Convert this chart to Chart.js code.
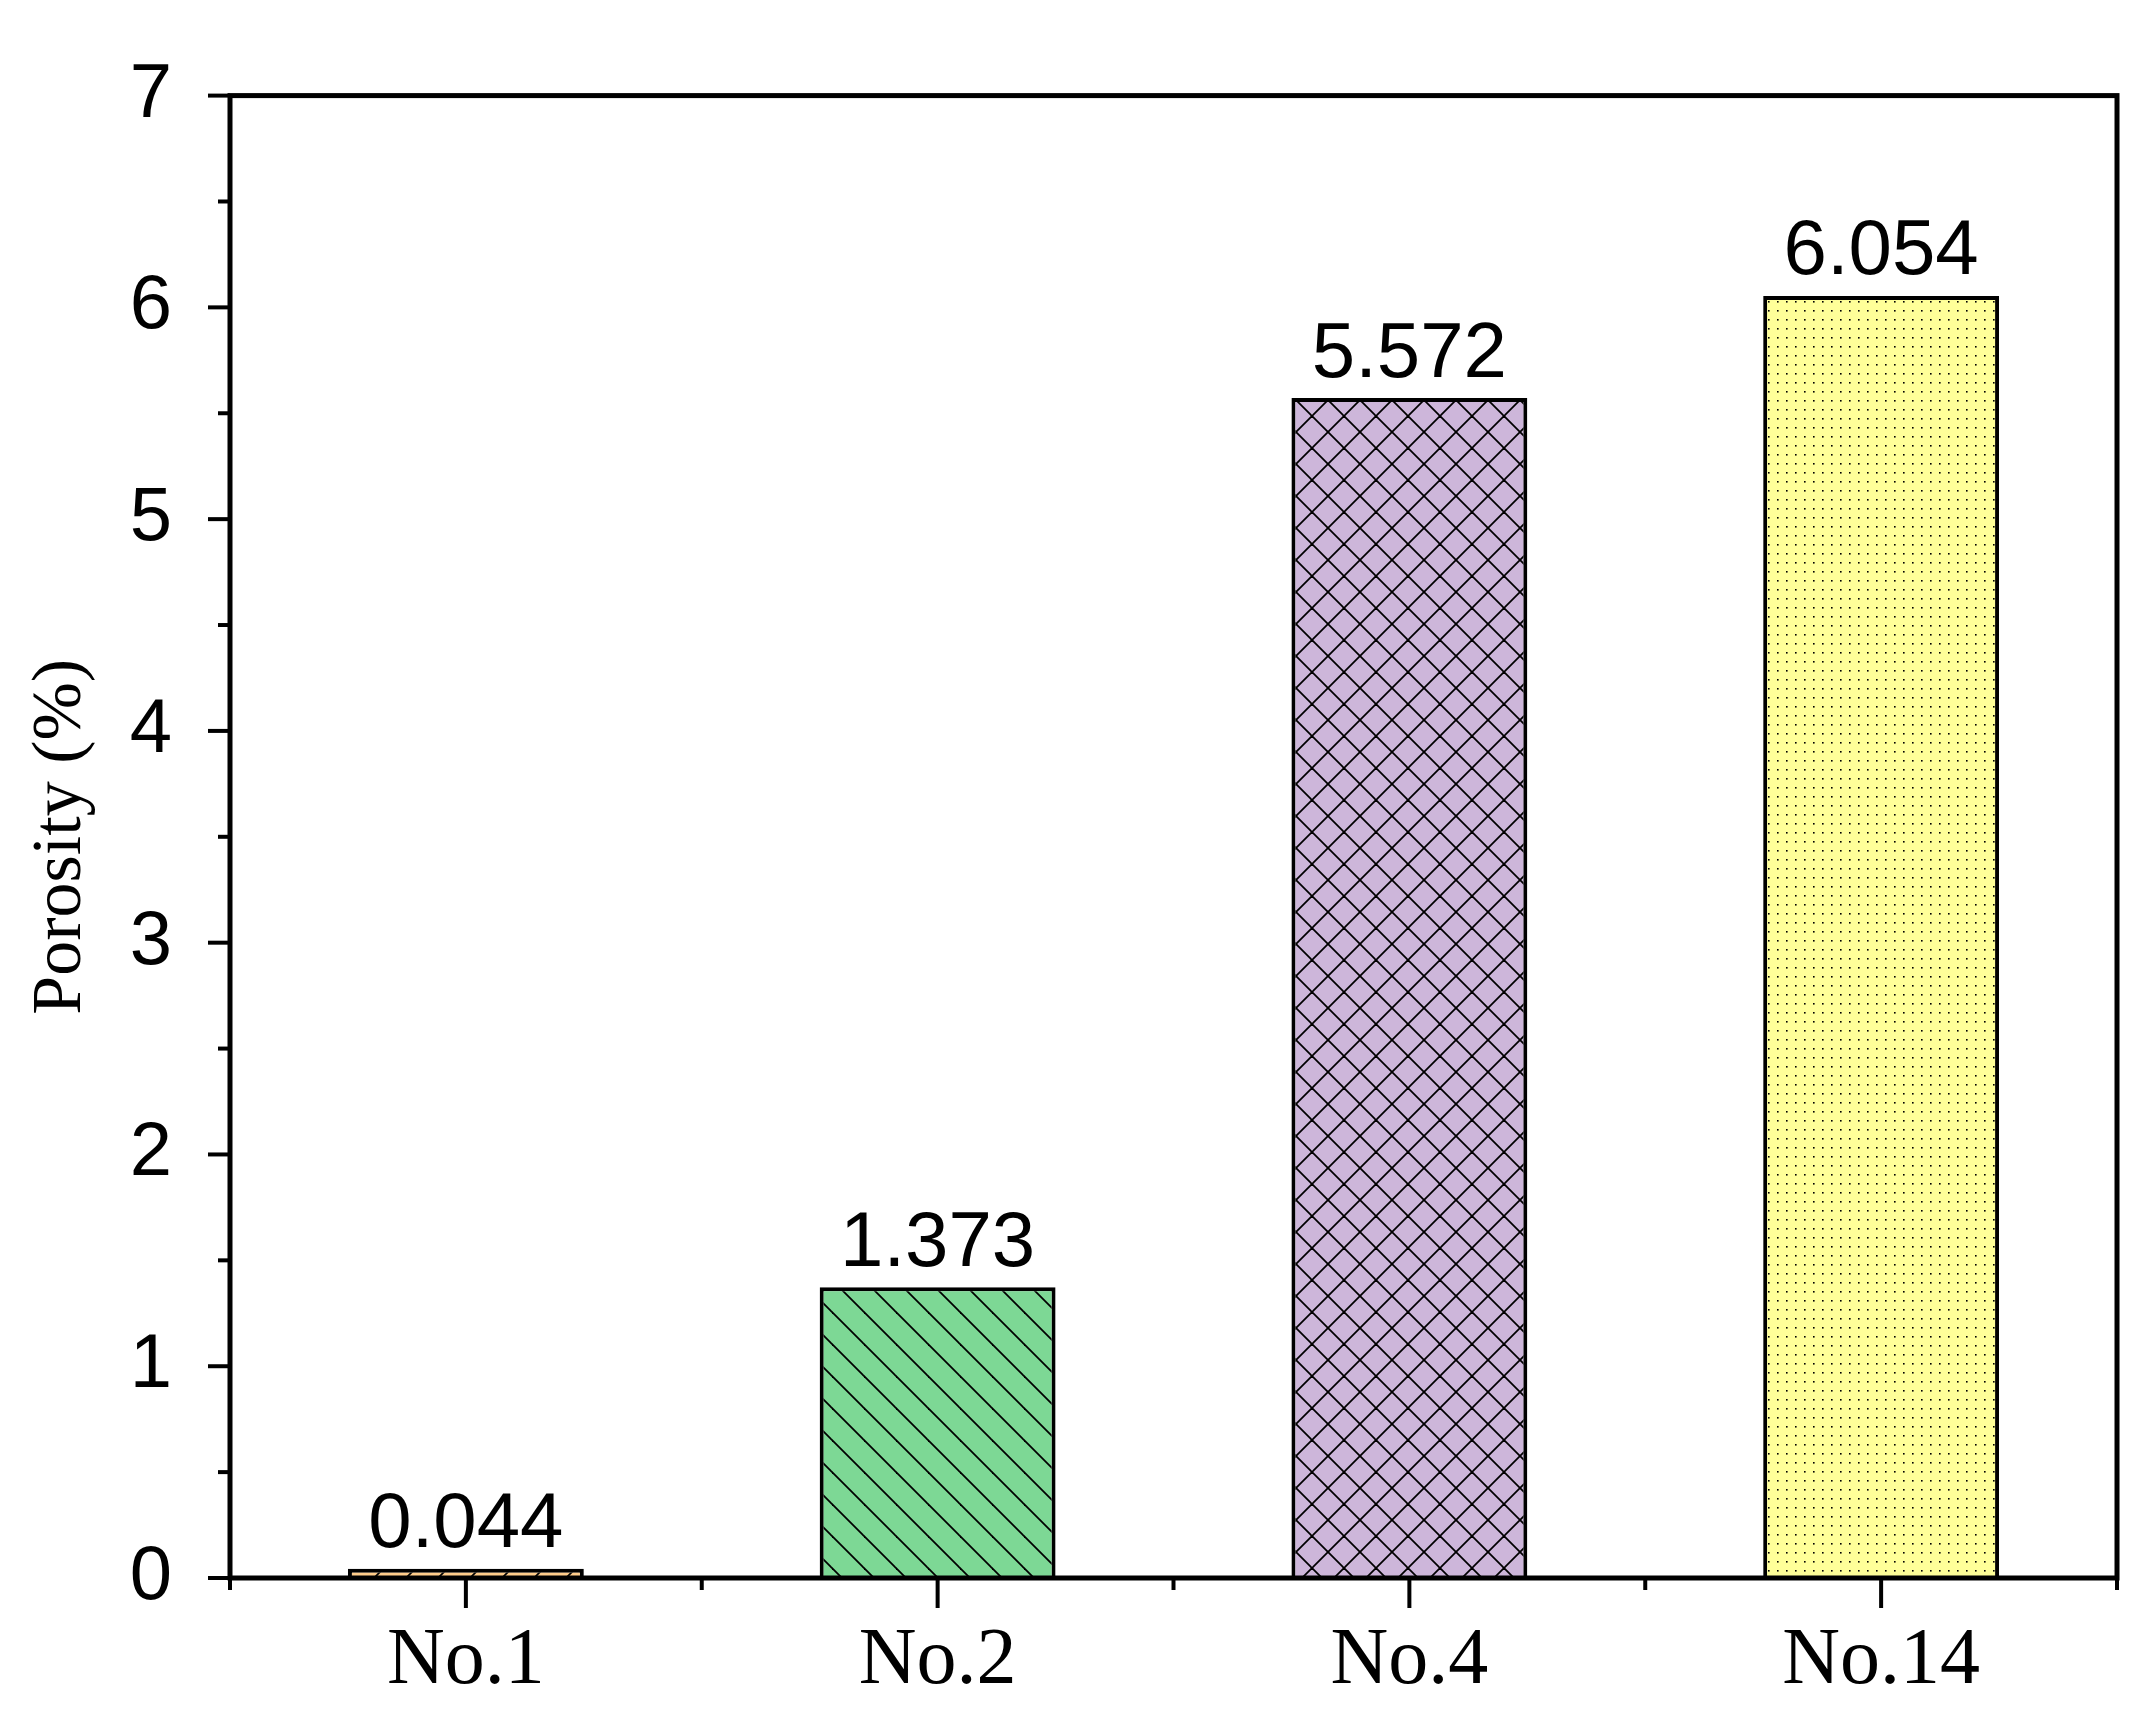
<!DOCTYPE html>
<html><head><meta charset="utf-8">
<script src="https://cdn.jsdelivr.net/npm/chart.js@4"></script>
<style>html,body{margin:0;padding:0;background:#fff}#w{width:2148px;height:1713px}</style>
</head><body><div id="w"><canvas id="c"></canvas></div>
<script>
const categories = ["No.1", "No.2", "No.4", "No.14"];
const porosity = [0.044, 1.373, 5.572, 6.054];
const valueLabels = ["0.044", "1.373", "5.572", "6.054"];
const yTicks = [0, 1, 2, 3, 4, 5, 6, 7];
const fillColors = ["#FFCC8A", "#7DD895", "#CDB6DA", "#FFFF99"];

function pat(kind, bg) {
  const s = kind === 'dot' ? 9 : 32;
  const c = document.createElement('canvas'); c.width = s; c.height = s;
  const g = c.getContext('2d');
  g.fillStyle = bg; g.fillRect(0, 0, s, s);
  g.strokeStyle = '#000'; g.lineWidth = 1.8; g.fillStyle = '#000';
  const line = (x1, y1, x2, y2) => { g.beginPath(); g.moveTo(x1, y1); g.lineTo(x2, y2); g.stroke(); };
  if (kind === 'fwd') { line(-2, s + 2, s + 2, -2); line(-s, s, s, -s); line(0, 2 * s, 2 * s, 0); }
  if (kind === 'back' || kind === 'cross') { line(-2, -2, s + 2, s + 2); line(-s, 0, s, 2 * s); line(0, -s, 2 * s, s); }
  if (kind === 'cross') { line(-2, s + 2, s + 2, -2); line(-s, s, s, -s); line(0, 2 * s, 2 * s, 0); }
  if (kind === 'dot') { g.fillRect(4, 4, 1.6, 1.6); }
  return g.createPattern(c, 'repeat');
}
const kinds = ['fwd', 'back', 'cross', 'dot'];
const fills = fillColors.map((c, i) => pat(kinds[i], c));

const deco = {
  id: 'deco',
  afterDraw(chart) {
    const { ctx, chartArea: a, scales: { x, y } } = chart;
    ctx.save();
    ctx.strokeStyle = '#000'; ctx.lineWidth = 5; ctx.lineCap = 'butt';
    ctx.strokeRect(a.left, a.top, a.right - a.left, a.bottom - a.top);
    ctx.lineWidth = 4;
    for (let v = 0; v <= 7; v += 0.5) {
      const p = y.getPixelForValue(v);
      const len = Number.isInteger(v) ? 22 : 12;
      ctx.beginPath(); ctx.moveTo(a.left, p); ctx.lineTo(a.left - len, p); ctx.stroke();
    }
    const n = categories.length;
    for (let i = 0; i <= n; i++) {
      const p = a.left + (a.right - a.left) * i / n;
      ctx.beginPath(); ctx.moveTo(p, a.bottom); ctx.lineTo(p, a.bottom + 12); ctx.stroke();
    }
    for (let i = 0; i < n; i++) {
      const p = x.getPixelForValue(i);
      ctx.beginPath(); ctx.moveTo(p, a.bottom); ctx.lineTo(p, a.bottom + 30); ctx.stroke();
    }
    ctx.fillStyle = '#000'; ctx.font = '78px "Liberation Sans", Arial, sans-serif';
    ctx.textAlign = 'center'; ctx.textBaseline = 'bottom';
    chart.getDatasetMeta(0).data.forEach((b, i) => ctx.fillText(valueLabels[i], b.x, b.y - 4));
    ctx.restore();
  }
};

new Chart(document.getElementById('c'), {
  type: 'bar',
  data: { labels: categories, datasets: [{ data: porosity, backgroundColor: fills, borderColor: '#000', borderWidth: 4, borderSkipped: 'bottom', categoryPercentage: 1, barPercentage: 0.5 }] },
  options: {
    responsive: true, maintainAspectRatio: false, animation: false, devicePixelRatio: 1,
    layout: { padding: { top: 24, right: 31, left: 20, bottom: 0 } },
    plugins: { legend: { display: false }, tooltip: { enabled: false } },
    scales: {
      x: {
        grid: { display: false }, border: { display: false },
        ticks: { color: '#000', font: { family: '"Liberation Serif", "Times New Roman", serif', size: 80 }, padding: 28, maxRotation: 0 },
        afterFit(s) { s.height = 135; }
      },
      y: {
        min: 0, max: 7, grid: { display: false }, border: { display: false },
        afterBuildTicks(s) { s.ticks = yTicks.map(v => ({ value: v })); },
        ticks: { color: '#000', font: { family: '"Liberation Sans", Arial, sans-serif', size: 76 }, padding: 50 },
        title: { display: true, text: 'Porosity (%)', color: '#000', font: { family: '"Liberation Serif", "Times New Roman", serif', size: 70 }, padding: { top: 0, bottom: 0 } },
        afterFit(s) { s.width = 210; }
      }
    }
  },
  plugins: [deco]
});
</script></body></html>
